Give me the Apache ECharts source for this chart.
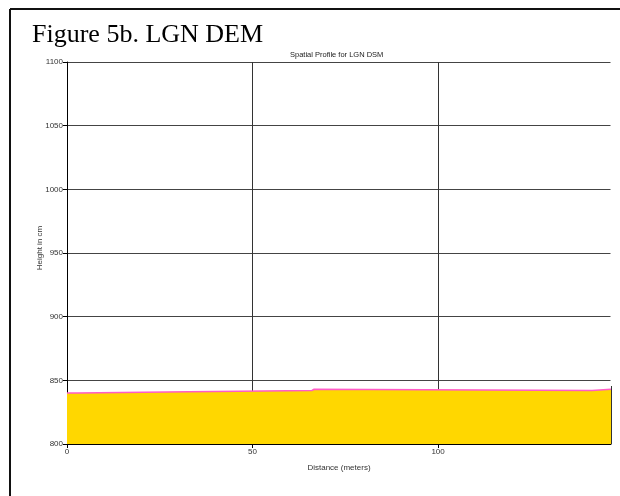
<!DOCTYPE html>
<html>
<head>
<meta charset="utf-8">
<script src="https://cdn.jsdelivr.net/npm/echarts@6/dist/echarts.min.js"></script>
<style>html,body{margin:0;padding:0;background:#fff}#c{width:620px;height:496px}</style>
</head>
<body>
<div id="c"></div>
<script>
var figureTitle = 'Figure 5b. LGN DEM';
var chartTitle = 'Spatial Profile for LGN DSM';
var xName = 'Distance (meters)';
var yName = 'Height in cm';
var distance = [0, 2.7, 32.9, 66.0, 66.3, 66.6, 141.5, 146.6];
var height   = [840, 841, 842, 842, 843, 842, 843, 843];
var xMin = 0, xMax = 146.6, xStep = 50;
var yMin = 800, yMax = 1100, yStep = 50;

// step profile: each height holds until the next distance
var pts = [];
distance.forEach(function (d, i) {
  if (i > 0) pts.push([d, height[i - 1]]);
  pts.push([d, height[i]]);
});
var fam = 'Liberation Sans';
var lab = {fontFamily: fam, fontSize: 8, color: '#333'};
var chart = echarts.init(document.getElementById('c'));
chart.setOption({
  animation: false,
  backgroundColor: '#fff',
  grid: {left: 67, top: 62, right: 9, bottom: 52},
  graphic: [
    {type: 'line', shape: {x1: 10, y1: 9, x2: 620, y2: 9}, style: {stroke: '#111', lineWidth: 2}},
    {type: 'line', shape: {x1: 10, y1: 9, x2: 10, y2: 496}, style: {stroke: '#111', lineWidth: 2}},
    {type: 'line', z: 100, shape: {x1: 611.5, y1: 60, x2: 611.5, y2: 386}, style: {stroke: '#fff', lineWidth: 2}},
    {type: 'text', left: 32, top: 22, style: {text: figureTitle, font: '26px "Liberation Serif"', fill: '#000'}},
    {type: 'text', left: 290, top: 51, style: {text: chartTitle, font: '7.5px "Liberation Sans"', fill: '#222'}},
    {type: 'text', x: 40, y: 248, rotation: Math.PI / 2, style: {text: yName, font: '8px "Liberation Sans"', fill: '#333', align: 'center', verticalAlign: 'middle'}}
  ],
  xAxis: {
    type: 'value', min: xMin, max: xMax, interval: xStep,
    name: xName, nameLocation: 'middle', nameGap: 20,
    nameTextStyle: lab,
    axisLine: {lineStyle: {color: '#000', width: 1}},
    axisTick: {show: true, length: 4, lineStyle: {color: '#000'}},
    axisLabel: Object.assign({margin: 4, showMaxLabel: false, formatter: function (v) { return v % xStep === 0 ? String(v) : ''; }}, lab),
    splitLine: {show: true, lineStyle: {color: '#333', width: 1}}
  },
  yAxis: {
    type: 'value', min: yMin, max: yMax, interval: yStep,
    axisLine: {show: true, lineStyle: {color: '#000', width: 1}},
    axisTick: {show: true, length: 4, lineStyle: {color: '#000'}},
    axisLabel: Object.assign({margin: 4, formatter: function (v) { return String(v); }}, lab),
    splitLine: {show: true, lineStyle: {color: '#444', width: 1}}
  },
  series: [{
    type: 'line', data: pts, symbol: 'none',
    lineStyle: {color: '#ff5cc8', width: 1.5},
    areaStyle: {color: '#ffd700', opacity: 1, origin: 'start'}
  }]
});
</script>
</body>
</html>
